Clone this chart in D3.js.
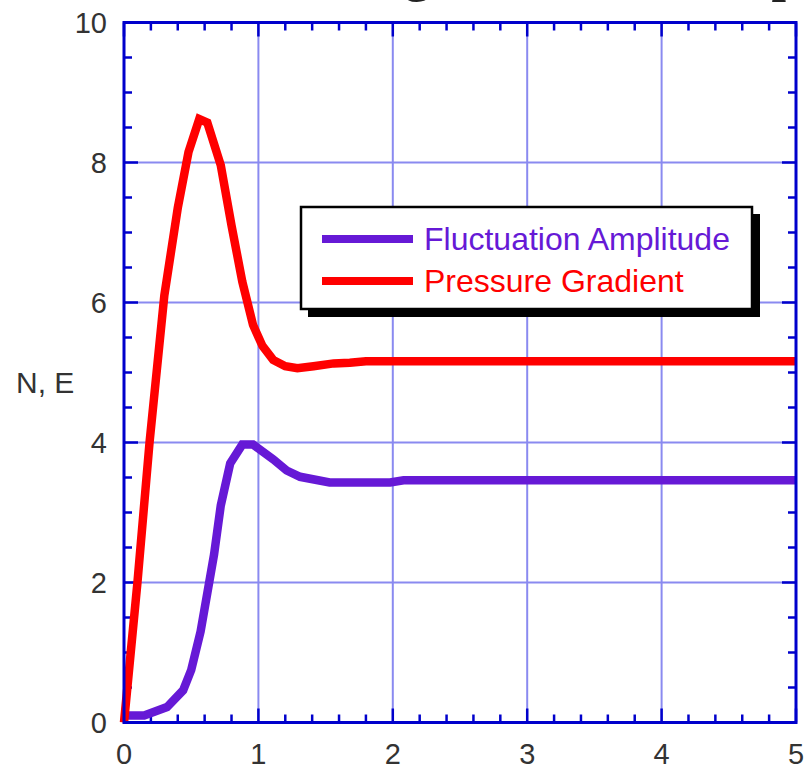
<!DOCTYPE html>
<html>
<head>
<meta charset="utf-8">
<script src="https://cdn.jsdelivr.net/npm/d3@7"></script>
<style>
  body { margin: 0; background: #fff; }
  svg { display: block; }
</style>
</head>
<body>
<svg id="chart" width="805" height="769"></svg>
<script>
// series: [time, value]
var pressureGradient = [
    [0, 0], [0.1, 2.0], [0.19, 4.0], [0.3, 6.1], [0.4, 7.35], [0.48, 8.15],
    [0.56, 8.62], [0.62, 8.57], [0.72, 7.96], [0.8, 7.1], [0.88, 6.3],
    [0.96, 5.68], [1.03, 5.38], [1.11, 5.18], [1.2, 5.09], [1.29, 5.06],
    [1.41, 5.09], [1.56, 5.13], [1.68, 5.14], [1.8, 5.16], [5, 5.16]
];
var fluctuationAmplitude = [
    [0, 0.1], [0.15, 0.1], [0.32, 0.22], [0.44, 0.46], [0.5, 0.75],
    [0.57, 1.3], [0.62, 1.85], [0.67, 2.4], [0.72, 3.1], [0.79, 3.7],
    [0.88, 3.97], [0.96, 3.97], [1.11, 3.76], [1.21, 3.6], [1.31, 3.51],
    [1.53, 3.43], [1.98, 3.43], [2.08, 3.46], [5, 3.46]
];
var seriesNames = ["Fluctuation Amplitude", "Pressure Gradient"];
var seriesColors = ["#6619d6", "#ff0000"];
var xTicks = [0, 1, 2, 3, 4, 5];
var yTicks = [0, 2, 4, 6, 8, 10];
var yLabel = "N, E";
var title = "Evolution of gradient and amplitude";

var svg = d3.select("#chart");
// plot box in pixels (names avoid window.top)
var plotL = 124, plotR = 796, plotT = 22.5, plotB = 722.5;

var x = d3.scaleLinear().domain([0, 5]).range([plotL, plotR]);
var y = d3.scaleLinear().domain([0, 10]).range([plotB, plotT]);

var axisColor = "#0000cc";
var gridColor = "#8a8af0";

// title, almost all of it above the top edge: only descenders show
svg.append("text")
    .attr("x", 523).attr("y", -9)
    .attr("text-anchor", "middle")
    .attr("font-family", "'Liberation Serif', 'DejaVu Serif', serif")
    .attr("font-weight", "bold")
    .attr("font-size", 52)
    .attr("fill", "#222")
    .text(title);

// grid
var grid = svg.append("g").attr("stroke", gridColor).attr("stroke-width", 2);
grid.selectAll("line.gx")
    .data(xTicks.slice(1, -1))
    .join("line")
    .attr("class", "gx")
    .attr("x1", d => x(d)).attr("x2", d => x(d))
    .attr("y1", plotT).attr("y2", plotB);
grid.selectAll("line.gy")
    .data(yTicks.slice(1, -1))
    .join("line")
    .attr("class", "gy")
    .attr("x1", plotL).attr("x2", plotR)
    .attr("y1", d => y(d)).attr("y2", d => y(d));

// ticks on all four sides, pointing inward
var xMinor = d3.range(0, 5.0001, 0.2);
var yMinor = d3.range(0, 10.0001, 0.5);
var ticks = svg.append("g").attr("stroke", axisColor).attr("stroke-width", 2.5);
xMinor.forEach(v => {
    var len = Math.abs(v - Math.round(v)) < 1e-6 ? 14 : 8;
    ticks.append("line").attr("x1", x(v)).attr("x2", x(v)).attr("y1", plotB).attr("y2", plotB - len);
    ticks.append("line").attr("x1", x(v)).attr("x2", x(v)).attr("y1", plotT).attr("y2", plotT + len);
});
yMinor.forEach(v => {
    var len = Math.abs(v / 2 - Math.round(v / 2)) < 1e-6 ? 14 : 8;
    ticks.append("line").attr("y1", y(v)).attr("y2", y(v)).attr("x1", plotL).attr("x2", plotL + len);
    ticks.append("line").attr("y1", y(v)).attr("y2", y(v)).attr("x1", plotR).attr("x2", plotR - len);
});

// curves
var line = d3.line().x(d => x(d[0])).y(d => y(d[1]));
[fluctuationAmplitude, pressureGradient].forEach((data, i) => {
    svg.append("path")
        .datum(data)
        .attr("fill", "none")
        .attr("stroke", seriesColors[i])
        .attr("stroke-width", 8.5)
        .attr("stroke-linejoin", "miter")
        .attr("d", line);
});

// frame
svg.append("rect")
    .attr("x", plotL).attr("y", plotT)
    .attr("width", plotR - plotL).attr("height", plotB - plotT)
    .attr("fill", "none")
    .attr("stroke", axisColor)
    .attr("stroke-width", 3);

// tick labels
var labelFont = "'Liberation Sans', Arial, sans-serif";
svg.append("g").selectAll("text")
    .data(xTicks)
    .join("text")
    .attr("x", d => x(d)).attr("y", 764)
    .attr("text-anchor", "middle")
    .attr("font-family", labelFont)
    .attr("font-size", 29)
    .attr("fill", "#333")
    .text(d => d);
svg.append("g").selectAll("text")
    .data(yTicks)
    .join("text")
    .attr("x", 107).attr("y", d => y(d) + 10)
    .attr("text-anchor", "end")
    .attr("font-family", labelFont)
    .attr("font-size", 29)
    .attr("fill", "#333")
    .text(d => d);

svg.append("text")
    .attr("x", 16).attr("y", 393)
    .attr("font-family", labelFont)
    .attr("font-size", 30)
    .attr("fill", "#333")
    .text(yLabel);

// legend with drop shadow
var lg = svg.append("g");
lg.append("rect")
    .attr("x", 308).attr("y", 214)
    .attr("width", 452).attr("height", 103)
    .attr("fill", "#000");
lg.append("rect")
    .attr("x", 301).attr("y", 207)
    .attr("width", 451).attr("height", 102)
    .attr("fill", "#fff")
    .attr("stroke", "#000")
    .attr("stroke-width", 2.5);
seriesNames.forEach((name, i) => {
    var ly = 239 + i * 42;
    lg.append("line")
        .attr("x1", 322).attr("x2", 413)
        .attr("y1", ly).attr("y2", ly)
        .attr("stroke", seriesColors[i])
        .attr("stroke-width", 8);
    lg.append("text")
        .attr("x", 424).attr("y", ly + 11)
        .attr("font-family", labelFont)
        .attr("font-size", 32)
        .attr("fill", seriesColors[i])
        .text(name);
});
</script>
</body>
</html>
